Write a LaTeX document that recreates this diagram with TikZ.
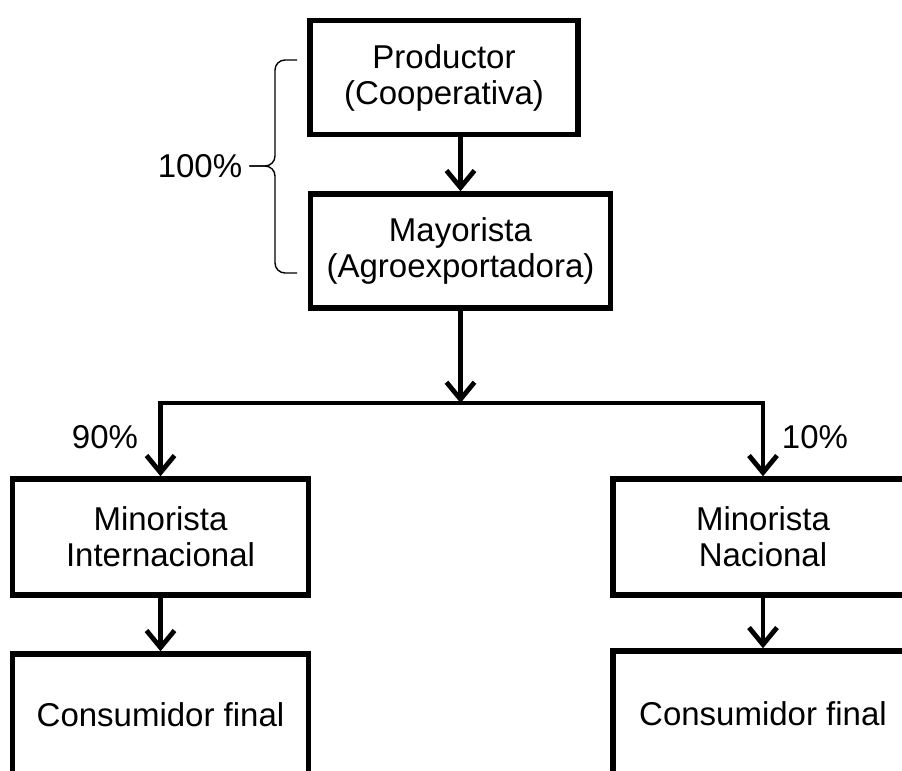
\documentclass[tikz,border=0pt]{standalone}
\usepackage{fontspec}
\setmainfont{Liberation Sans}
\usetikzlibrary{arrows.meta,positioning}

\begin{document}
\begin{tikzpicture}[x=0.5pt, y=-0.5pt, font=\fontsize{16.5}{18}\selectfont,
                    caja/.style={draw, line width=2.7pt, align=center, inner sep=0pt, minimum height=57pt},
                    flecha/.style={line width=2.4pt, -{Straight Barb[length=8.5pt,width=14pt]}},
                    llave/.style={line width=0.7pt, rounded corners=5pt}]
\useasboundingbox (0,0) rectangle (902,771);
% cadena
\node[caja, minimum width=134pt] (prod) at (444,77.5) {Productor\\(Cooperativa)};
\node[caja, minimum width=150pt] (mayo) at (460.5,251) {Mayorista\\(Agroexportadora)};
\node[caja, minimum width=148pt, minimum height=58pt] (minInt) at (160.5,537) {Minorista\\Internacional};
\node[caja, minimum width=150pt, minimum height=58pt] (minNac) at (763,537) {Minorista\\Nacional};
\node[caja, minimum width=148pt, minimum height=61pt] (consInt) at (160.5,715) {Consumidor final};
\node[caja, minimum width=150pt, minimum height=63pt] (consNac) at (763,714) {Consumidor final};
% porcentajes
\node (pct100) at (200,166) {100\%};
\node (pct90) at (105,437) {90\%};
\node (pct10) at (815,437) {10\%};
% flechas
\coordinate (split) at (457,403);
\draw[flecha] (prod.south -| mayo.north) -- (mayo.north);
\draw[flecha] (mayo.south) -- (mayo.south |- split);
\draw[flecha] (mayo.south |- split) -| (minInt.north);
\draw[flecha] (mayo.south |- split) -| (minNac.north);
\draw[flecha] (minInt) -- (consInt);
\draw[flecha] (minNac) -- (consNac);
% llave
\coordinate (llaveA) at (297,60);
\coordinate (llaveB) at (297,273);
\coordinate (llaveM) at (275,166);
\draw[llave] (llaveA) -| (llaveM) -- (pct100.east);
\draw[llave] (llaveB) -| (llaveM) -- (pct100.east);
\end{tikzpicture}
\end{document}
